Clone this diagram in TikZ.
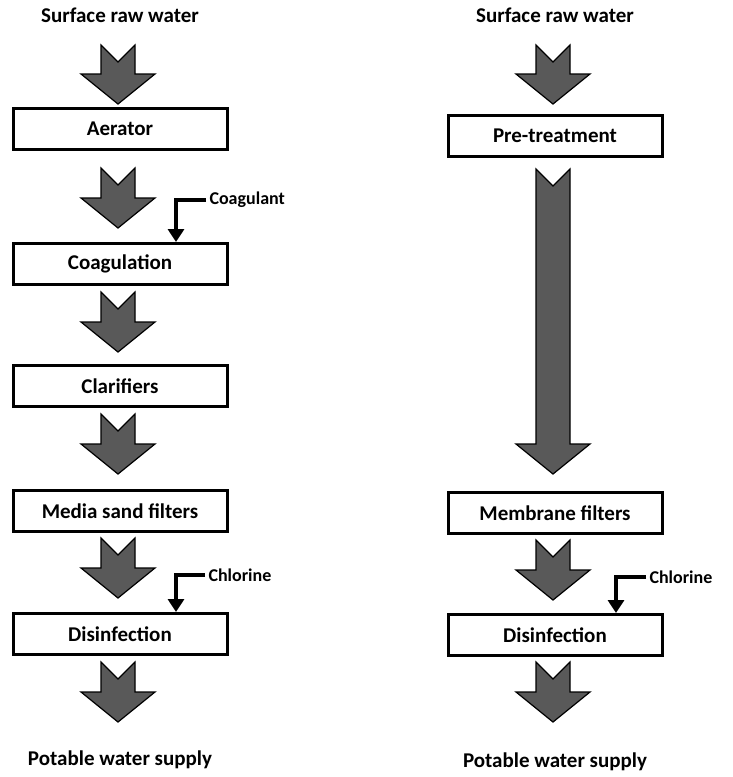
\documentclass[tikz,border=0pt]{standalone}
\usepackage{fontspec}
\setmainfont{Carlito}
\usetikzlibrary{arrows.meta}
\begin{document}
\begin{tikzpicture}[x=1pt,y=-1pt,
  box/.style={draw,line width=3pt,minimum width=214pt,minimum height=41pt,font=\bfseries\fontsize{21}{23}\selectfont},
  lbl/.style={font=\bfseries\fontsize{21}{23}\selectfont},
  sm/.style={font=\bfseries\fontsize{18}{20}\selectfont,anchor=west},
  fat/.style={fill=black!65,draw=black,line width=1.2pt,line join=miter},
  feed/.style={line width=3.5pt,-{Triangle[length=13pt,width=16pt]}}]
\useasboundingbox (0,0) rectangle (733,777);
\newcommand{\fatarr}[3]{\path[fat] (#1-17,#2) -- (#1,#2+17) -- (#1+17,#2) -- (#1+17,#3-30) -- (#1+37,#3-30) -- (#1,#3) -- (#1-37,#3-30) -- (#1-17,#3-30) -- cycle;}
% left column
\node[lbl] (s1) at (120,15) {Surface raw water};
\node[box] (a1) at (120,129) {Aerator};
\node[box] (a2) at (120,264) {Coagulation};
\node[box] (a3) at (120,386) {Clarifiers};
\node[box] (a4) at (120,511) {Media sand filters};
\node[box] (a5) at (120,634) {Disinfection};
\node[lbl] (e1) at (120,760) {Potable water supply};
\fatarr{118}{45}{104}
\fatarr{118}{168}{228}
\fatarr{118}{292}{352}
\fatarr{118}{414}{474}
\fatarr{118}{538}{598}
\fatarr{118}{662}{722}
\node[sm] (cg) at (206,200) {Coagulant};
\coordinate (cgc) at (176,200);
\draw[feed] (cg.west) -- (cgc) -- (cgc|-a2.north);
\node[sm] (cl1) at (205,575) {Chlorine};
\coordinate (cl1c) at (176,575);
\draw[feed] (cl1.west) -- (cl1c) -- (cl1c|-a5.north);
% right column
\node[lbl] (s2) at (555,15) {Surface raw water};
\node[box] (b1) at (555,136) {Pre-treatment};
\node[box] (b2) at (555,513) {Membrane filters};
\node[box] (b3) at (555,635) {Disinfection};
\node[lbl] (e2) at (555,762) {Potable water supply};
\fatarr{553}{45}{104}
\fatarr{553}{169}{474}
\fatarr{553}{540}{600}
\fatarr{553}{662}{722}
\node[sm] (cl2) at (646,577) {Chlorine};
\coordinate (cl2c) at (616,577);
\draw[feed] (cl2.west) -- (cl2c) -- (cl2c|-b3.north);
\end{tikzpicture}
\end{document}
